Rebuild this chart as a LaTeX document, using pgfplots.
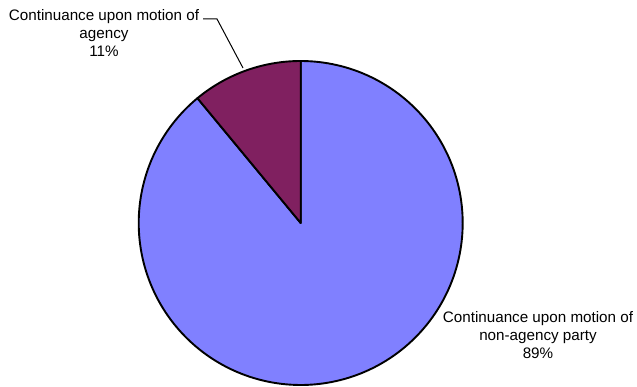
\documentclass[border=0pt]{standalone}
\usepackage{fontspec}
\setmainfont{Liberation Sans}
\usepackage{pgfplots}
\usepackage{pgfplotstable}
\pgfplotsset{compat=1.18}

\definecolor{agency}{HTML}{802060}
\definecolor{nonagency}{HTML}{8080FF}

% share of continuances, in percent
\pgfplotstableread{
share
11
89
}\piedata

\begin{document}
\begin{tikzpicture}
\pgfplotstablegetelem{0}{share}\of\piedata
\pgfmathtruncatemacro{\shareA}{\pgfplotsretval}
\pgfplotstablegetelem{1}{share}\of\piedata
\pgfmathtruncatemacro{\shareB}{\pgfplotsretval}
% slice angles, counter-clockwise from 12 o'clock
\pgfmathsetmacro{\angA}{90+3.6*\shareA}
\pgfmathsetmacro{\angB}{\angA+3.6*\shareB}
\def\cx{300.7}
\def\cy{164}
\def\rr{162}
\begin{axis}[
  width=637bp, height=387bp, scale only axis,
  xmin=0, xmax=637, ymin=0, ymax=387,
  hide axis, clip=false,
]
\path (rel axis cs:0,0) rectangle (rel axis cs:1,1);
% non-agency party slice
\addplot[fill=nonagency, draw=black, line width=1.9bp, line join=round,
  domain=\angA:\angB, samples=200, variable=\t]
  ({\cx+\rr*cos(\t)}, {\cy+\rr*sin(\t)}) -- (axis cs:\cx,\cy) -- cycle;
% agency slice
\addplot[fill=agency, draw=black, line width=1.9bp, line join=round,
  domain=90:\angA, samples=40, variable=\t]
  ({\cx+\rr*cos(\t)}, {\cy+\rr*sin(\t)}) -- (axis cs:\cx,\cy) -- cycle;
% leader line of the small slice
\draw[line width=1bp] (axis cs:203,368) -- (axis cs:217,368) -- (axis cs:243,319);
\node[align=center, inner sep=0pt, font=\fontsize{15.2bp}{18bp}\selectfont]
  at (axis cs:104,353.5) {Continuance upon motion of\\agency\\\shareA\%};
\node[align=center, inner sep=0pt, font=\fontsize{15.2bp}{18bp}\selectfont]
  at (axis cs:538,52) {Continuance upon motion of\\non-agency party\\\shareB\%};
\end{axis}
\end{tikzpicture}
\end{document}
